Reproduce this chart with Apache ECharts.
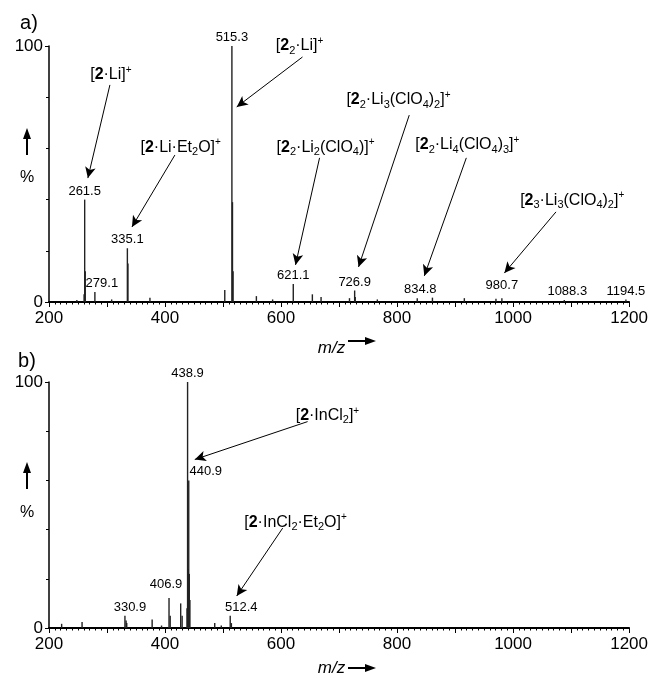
<!DOCTYPE html>
<html>
<head>
<meta charset="utf-8">
<script src="https://cdn.jsdelivr.net/npm/echarts@6/dist/echarts.min.js"></script>
<style>
  html, body { margin: 0; padding: 0; background: #fff; }
  #chart { width: 651px; height: 678px; }
</style>
</head>
<body>
<div id="chart"></div>
<script>
var FONT = '"Liberation Sans", Arial, sans-serif';

// a) 质谱峰 (m/z, 相对强度 %)
var mzA  = [248, 260.5, 261.5, 262.5, 279.1, 308, 335.1, 336.1, 374, 503, 515.3, 516.3, 517.3,
            557.5, 585.5, 621.1, 654, 669, 718, 726.9, 727.9, 766, 834.8, 861, 916, 970.5, 980.7, 1088.3, 1194.5];
var intA = [0.8, 3, 40, 12, 3.9, 1, 21, 15, 1.7, 4.7, 100, 39, 12,
            2.3, 1, 7, 3, 2, 1.5, 4.5, 2, 1, 1.5, 1.7, 1.5, 1.3, 1.5, 0.8, 1];
var labelMzA = [261.5, 279.1, 335.1, 515.3, 621.1, 726.9, 834.8, 980.7, 1088.3, 1194.5];

// a) 注释文字及位置 (数据坐标)
var annotTextA = [
  '[{b|2}·Li]{p|+}',
  '[{b|2}·Li·Et{s|2}O]{p|+}',
  '[{b|2}{s|2}·Li]{p|+}',
  '[{b|2}{s|2}·Li{s|2}(ClO{s|4})]{p|+}',
  '[{b|2}{s|2}·Li{s|3}(ClO{s|4}){s|2}]{p|+}',
  '[{b|2}{s|2}·Li{s|4}(ClO{s|4}){s|3}]{p|+}',
  '[{b|2}{s|3}·Li{s|3}(ClO{s|4}){s|2}]{p|+}'
];
var annotPosA = [[306.7, 88.7], [427, 60.5], [632, 100], [676.8, 60.5], [802.4, 78.9], [921.2, 61.3], [1101.9, 39.8]];
var arrowsA = [[305, 84.8, 267, 48.4], [417, 57.4, 343, 29.3], [637, 95.7, 523.6, 76.2], [666.4, 56.3, 625, 14.5],
               [821, 73, 733.6, 13.7], [919.4, 56.3, 847, 10.2], [1074, 35.2, 985, 11.3]];

// b) 质谱峰
var mzB  = [221.8, 257, 330.9, 332.9, 334, 377.8, 394, 406.9, 408.9, 427, 429.5,
            437.9, 438.9, 439.9, 440.9, 441.9, 442.9, 485.7, 497, 512.4, 514.4];
var intB = [1.7, 2.4, 5, 3, 2, 3.5, 1, 12.2, 5, 10, 5,
            8, 100, 24, 60, 22, 11.4, 2, 1, 5, 2];
var labelMzB = [330.9, 406.9, 438.9, 440.9, 512.4];

var annotTextB = [
  '[{b|2}·InCl{s|2}]{p|+}',
  '[{b|2}·InCl{s|2}·Et{s|2}O]{p|+}'
];
var annotPosB = [[680, 86.2], [625, 42.9]];
var arrowsB = [[645.8, 83.9, 451.3, 68.5], [602.8, 40.6, 523.6, 13]];

// 标签微调 (像素)
var labelOffset = {
  '279.1': [7, 0], '980.7': [0, -4], '834.8': [3, 0], '1088.3': [3, 0],
  '406.9': [-3, -5], '330.9': [5, 0], '440.9': [17, 0], '512.4': [11, 0]
};

var rich = {
  b: { fontSize: 16, fontWeight: 'bold', fontFamily: FONT, color: '#000', lineHeight: 20 },
  s: { fontSize: 11, fontFamily: FONT, color: '#000', lineHeight: 11, verticalAlign: 'bottom' },
  p: { fontSize: 10, fontFamily: FONT, color: '#000', lineHeight: 10, verticalAlign: 'top' }
};

function peakData(mz, vals, labels) {
  return mz.map(function (m, i) {
    var item = { value: [m, vals[i]] };
    if (labels.indexOf(m) >= 0) {
      item.label = {
        show: true, position: 'top', distance: 2,
        formatter: m.toFixed(1),
        offset: labelOffset[m.toFixed(1)] || [0, 0]
      };
    }
    return item;
  });
}

function spectrum(idx, mz, vals, labels, texts, pos, arrows) {
  return {
    type: 'bar',
    xAxisIndex: idx, yAxisIndex: idx,
    barWidth: 1.4,
    clip: false,
    itemStyle: { color: '#222' },
    label: { color: '#000', fontSize: 13, fontFamily: FONT },
    data: peakData(mz, vals, labels),
    markLine: {
      silent: true,
      symbol: ['none', 'arrow'],
      symbolSize: [8, 11],
      lineStyle: { color: '#000', width: 1, type: 'solid' },
      label: { show: false },
      data: arrows.map(function (a) {
        return [{ coord: [a[0], a[1]] }, { coord: [a[2], a[3]] }];
      })
    },
    markPoint: {
      silent: true,
      symbol: 'rect', symbolSize: 1,
      itemStyle: { color: 'rgba(0,0,0,0)' },
      label: {
        show: true, position: 'inside',
        fontSize: 16, fontFamily: FONT, color: '#000', lineHeight: 20,
        formatter: function (p) { return p.name; },
        rich: rich
      },
      data: texts.map(function (t, i) { return { name: t, coord: pos[i] }; })
    }
  };
}

function xAx(idx, gap) {
  return {
    type: 'value', gridIndex: idx, min: 200, max: 1200, interval: 100,
    name: 'm/z', nameLocation: 'middle', nameGap: gap,
    nameTextStyle: { fontSize: 17, fontStyle: 'italic', fontFamily: FONT, color: '#000', padding: [0, 15, 0, 0] },
    axisLine: { lineStyle: { color: '#000', width: 2 } },
    axisTick: { length: 5, lineStyle: { color: '#000' } },
    minorTick: { show: true, splitNumber: 10, length: 2.5, lineStyle: { color: '#000' } },
    splitLine: { show: false },
    axisLabel: {
      fontSize: 17, fontFamily: FONT, color: '#000', margin: 8,
      formatter: function (v) { return v % 200 === 0 ? v : ''; }
    }
  };
}

function yAx(idx) {
  return {
    type: 'value', gridIndex: idx, min: 0, max: 100, interval: 100,
    axisLine: { show: true, lineStyle: { color: '#000', width: 1.5 } },
    axisTick: { show: true, length: 4, lineStyle: { color: '#000' } },
    minorTick: { show: true, splitNumber: 5, length: 3, lineStyle: { color: '#000' } },
    splitLine: { show: false },
    axisLabel: { fontSize: 17, fontFamily: FONT, color: '#000', margin: 6 }
  };
}

function upArrow(x, tipY) {
  return [
    { type: 'polygon', shape: { points: [[x, tipY], [x - 4, tipY + 11], [x + 4, tipY + 11]] }, style: { fill: '#000' } },
    { type: 'line', shape: { x1: x, y1: tipY + 10, x2: x, y2: tipY + 27 }, style: { stroke: '#000', lineWidth: 2 } }
  ];
}
function rightArrow(x, y) {
  return [
    { type: 'line', shape: { x1: x, y1: y, x2: x + 19, y2: y }, style: { stroke: '#000', lineWidth: 2 } },
    { type: 'polygon', shape: { points: [[x + 28, y], [x + 17, y - 4], [x + 17, y + 4]] }, style: { fill: '#000' } }
  ];
}
function txt(x, y, s, size) {
  return { type: 'text', x: x, y: y, style: { text: s, fontSize: size, fontFamily: FONT, fill: '#000', textAlign: 'center', textVerticalAlign: 'middle' } };
}

var chart = echarts.init(document.getElementById('chart'));
var option = {
  animation: false,
  backgroundColor: '#fff',
  grid: [
    { left: 49, right: 21, top: 46, height: 256 },
    { left: 49, right: 21, top: 382, height: 254 }
  ],
  xAxis: [xAx(0, 38), xAx(1, 32)],
  yAxis: [yAx(0), yAx(1)],
  series: [
    spectrum(0, mzA, intA, labelMzA, annotTextA, annotPosA, arrowsA),
    spectrum(1, mzB, intB, labelMzB, annotTextB, annotPosB, arrowsB)
  ],
  graphic: [].concat(
    [txt(29, 23, 'a)', 20), txt(27, 361, 'b)', 20), txt(27, 178, '%', 16), txt(27, 513, '%', 16)],
    upArrow(27, 128), upArrow(27, 462),
    rightArrow(348, 341), rightArrow(348, 668)
  )
};
chart.setOption(option);
</script>
</body>
</html>
